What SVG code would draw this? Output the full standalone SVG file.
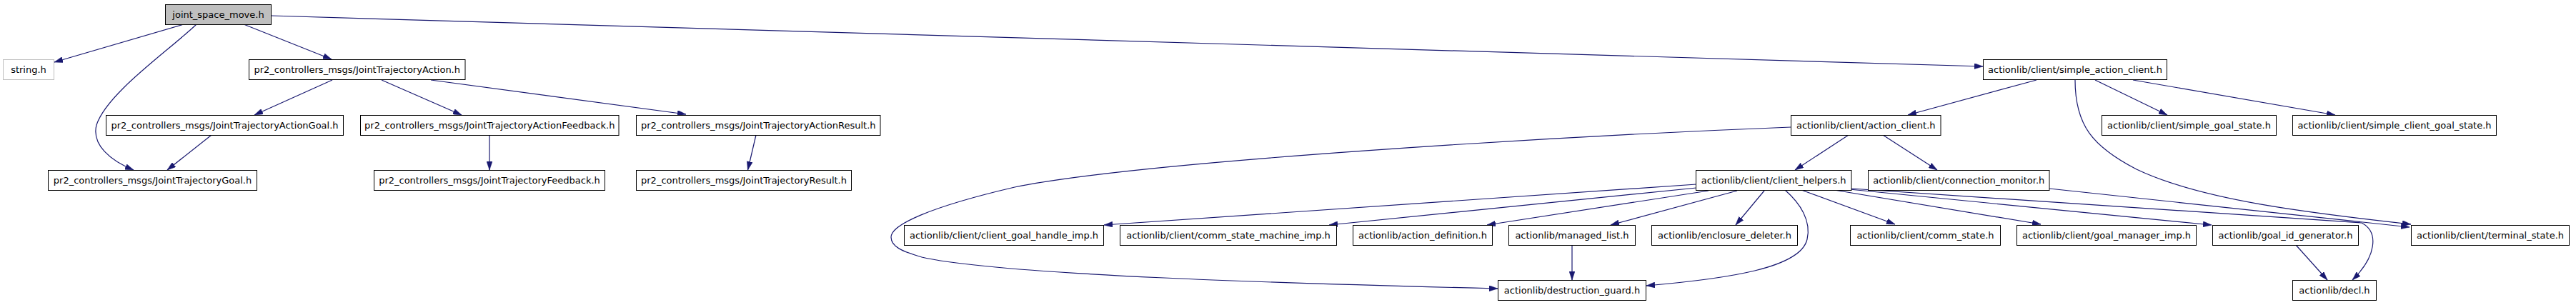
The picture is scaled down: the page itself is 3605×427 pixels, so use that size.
<svg xmlns="http://www.w3.org/2000/svg" width="3605" height="427" viewBox="0 0 3605 427">
<style>
.n rect{fill:#ffffff;stroke:#000000;stroke-width:1}
.n text{font-family:"DejaVu Sans","Liberation Sans",sans-serif;font-size:13px;fill:#000000;text-anchor:middle}
.root rect{fill:#bfbfbf}
.ext rect{stroke:#bfbfbf}
.e path{fill:none;stroke:#191970;stroke-width:1.2;marker-end:url(#arr)}
</style>
<defs>
<marker id="arr" markerUnits="userSpaceOnUse" markerWidth="12" markerHeight="8" viewBox="0 0 12 8" refX="12" refY="4" orient="auto">
<path d="M0,0 L12,4 L0,8 z" fill="#191970" stroke="#191970" stroke-width="0.5"/>
</marker>
</defs>
<rect x="0" y="0" width="3605" height="427" fill="#ffffff"/>
<g id="connectors" class="e">
<path d="M257,34 L76,87"/>
<path d="M275,34 C235,72 150,130 135,175 C128,203 155,225 187,238"/>
<path d="M341,34 L464,83"/>
<path d="M380,22 L2775,93"/>
<path d="M465,112 L356,161"/>
<path d="M534,112 L646,161"/>
<path d="M603,112 L960,160"/>
<path d="M296,189 L234,238"/>
<path d="M685,189 L685,238"/>
<path d="M1058,189 L1046.5,238"/>
<path d="M2850,112 L2670,161"/>
<path d="M2932,112 L3033,161"/>
<path d="M2985,112 L3268,161"/>
<path d="M2904,112 C2904,175 2928,205 2990,237 C3080,280 3230,298 3374,314"/>
<path d="M2587,189 L2512,238"/>
<path d="M2635,189 L2711,238"/>
<path d="M2506,178 C2200,190 1600,225 1420,262 C1300,290 1247,315 1247,332 C1247,345 1262,352 1290,360 C1400,385 1800,397 2096,404"/>
<path d="M2374,258 L1545,315"/>
<path d="M2374,263 L1860,315"/>
<path d="M2391,267 L2081,315"/>
<path d="M2431,267 L2254,315"/>
<path d="M2469,267 L2429,315"/>
<path d="M2498,266 C2520,285 2535,310 2529,335 C2520,375 2420,390 2304,400"/>
<path d="M2521,266 L2652,314"/>
<path d="M2567,266 L2856,314"/>
<path d="M2588,265 L3095,315"/>
<path d="M2591,264 C2900,284 3200,303 3305,312 C3330,325 3325,360 3292,392"/>
<path d="M2868,264 L3372,318"/>
<path d="M2200,343 L2200,392"/>
<path d="M3213,343 L3257,392"/>
</g>
<g id="n_jsm" class="n root"><rect x="231.5" y="6.5" width="148" height="28"/><text x="305.5" y="25">joint_space_move.h</text></g>
<g id="n_string" class="n ext"><rect x="4.5" y="83.5" width="71" height="28"/><text x="40" y="102">string.h</text></g>
<g id="n_jta" class="n"><rect x="348.5" y="83.5" width="302.5" height="28"/><text x="499.75" y="102">pr2_controllers_msgs/JointTrajectoryAction.h</text></g>
<g id="n_jtag" class="n"><rect x="148.5" y="161.5" width="332" height="28"/><text x="314.5" y="180">pr2_controllers_msgs/JointTrajectoryActionGoal.h</text></g>
<g id="n_jtaf" class="n"><rect x="504.5" y="161.5" width="361.5" height="28"/><text x="685.25" y="180">pr2_controllers_msgs/JointTrajectoryActionFeedback.h</text></g>
<g id="n_jtar" class="n"><rect x="890.5" y="161.5" width="341.5" height="28"/><text x="1061.25" y="180">pr2_controllers_msgs/JointTrajectoryActionResult.h</text></g>
<g id="n_jtg" class="n"><rect x="67.5" y="238.5" width="292" height="28"/><text x="213.5" y="257">pr2_controllers_msgs/JointTrajectoryGoal.h</text></g>
<g id="n_jtf" class="n"><rect x="523.5" y="238.5" width="323" height="28"/><text x="685" y="257">pr2_controllers_msgs/JointTrajectoryFeedback.h</text></g>
<g id="n_jtr" class="n"><rect x="890.5" y="238.5" width="301" height="28"/><text x="1041" y="257">pr2_controllers_msgs/JointTrajectoryResult.h</text></g>
<g id="n_sac" class="n"><rect x="2775.5" y="83.5" width="257" height="28"/><text x="2904" y="102">actionlib/client/simple_action_client.h</text></g>
<g id="n_ac" class="n"><rect x="2506.5" y="161.5" width="209.5" height="28"/><text x="2611.25" y="180">actionlib/client/action_client.h</text></g>
<g id="n_sgs" class="n"><rect x="2941.5" y="161.5" width="244" height="28"/><text x="3063.5" y="180">actionlib/client/simple_goal_state.h</text></g>
<g id="n_scgs" class="n"><rect x="3208.5" y="161.5" width="285" height="28"/><text x="3351" y="180">actionlib/client/simple_client_goal_state.h</text></g>
<g id="n_ch" class="n"><rect x="2373.5" y="238.5" width="217.5" height="28"/><text x="2482.25" y="257">actionlib/client/client_helpers.h</text></g>
<g id="n_cm" class="n"><rect x="2614.5" y="238.5" width="253.5" height="28"/><text x="2741.25" y="257">actionlib/client/connection_monitor.h</text></g>
<g id="n_cghi" class="n"><rect x="1265.5" y="315.5" width="279" height="28"/><text x="1405" y="334">actionlib/client/client_goal_handle_imp.h</text></g>
<g id="n_csmi" class="n"><rect x="1567.5" y="315.5" width="303" height="28"/><text x="1719" y="334">actionlib/client/comm_state_machine_imp.h</text></g>
<g id="n_ad" class="n"><rect x="1893.5" y="315.5" width="195" height="28"/><text x="1991" y="334">actionlib/action_definition.h</text></g>
<g id="n_ml" class="n"><rect x="2111.5" y="315.5" width="177" height="28"/><text x="2200" y="334">actionlib/managed_list.h</text></g>
<g id="n_ed" class="n"><rect x="2311.5" y="315.5" width="204" height="28"/><text x="2413.5" y="334">actionlib/enclosure_deleter.h</text></g>
<g id="n_cs" class="n"><rect x="2589.5" y="315.5" width="210" height="28"/><text x="2694.5" y="334">actionlib/client/comm_state.h</text></g>
<g id="n_gmi" class="n"><rect x="2822.5" y="315.5" width="251" height="28"/><text x="2948" y="334">actionlib/client/goal_manager_imp.h</text></g>
<g id="n_gig" class="n"><rect x="3096.5" y="315.5" width="204" height="28"/><text x="3198.5" y="334">actionlib/goal_id_generator.h</text></g>
<g id="n_ts" class="n"><rect x="3374.5" y="315.5" width="221" height="28"/><text x="3485" y="334">actionlib/client/terminal_state.h</text></g>
<g id="n_dg" class="n"><rect x="2096.5" y="392.5" width="207" height="28"/><text x="2200" y="411">actionlib/destruction_guard.h</text></g>
<g id="n_decl" class="n"><rect x="3208.5" y="392.5" width="117" height="28"/><text x="3267" y="411">actionlib/decl.h</text></g>
</svg>
